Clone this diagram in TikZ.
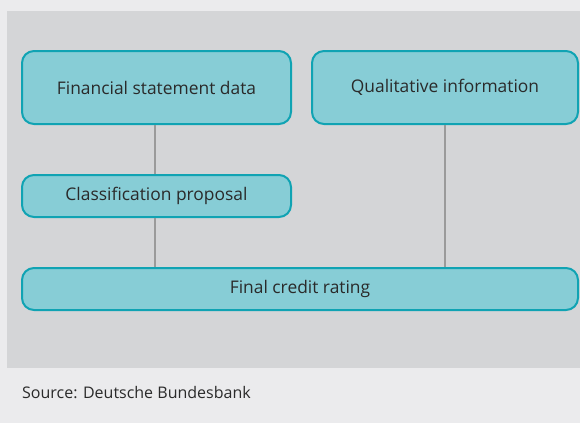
\documentclass[tikz,border=0pt]{standalone}
\usepackage{fontspec}
\setmainfont{Open Sans}
\definecolor{outerbg}{HTML}{EBEBED}
\definecolor{innerbg}{HTML}{D4D5D7}
\definecolor{boxfill}{HTML}{87CDD6}
\definecolor{boxline}{HTML}{10A3B3}
\definecolor{linkgray}{HTML}{9A9A9A}
\definecolor{txt}{HTML}{2A2A2A}
\tikzset{
  ratingbox/.style={draw=boxline, fill=boxfill, line width=2pt, rounded corners=12pt,
    text=txt, font=\fontsize{17.4}{20}\selectfont, inner sep=0pt},
  link/.style={draw=linkgray, line width=2pt}
}

\begin{document}
\begin{tikzpicture}[x=1pt, y=-1pt]
% Background
\fill[outerbg] (0,0) rectangle (580,423);
\fill[innerbg] (7,11) rectangle (580,368);
\useasboundingbox (0,0) rectangle (580,423);
% Nodes
\node[ratingbox, minimum width=269pt, minimum height=73pt] (fsd) at (156.5,87.5) {Financial statement data};
\node[ratingbox, minimum width=266pt, minimum height=73pt] (qual) at (445,87.5) {Qualitative information};
\node[ratingbox, minimum width=269pt, minimum height=42pt] (cls) at (156.5,196) {Classification proposal};
\node[ratingbox, minimum width=556pt, minimum height=42pt] (final) at (300,289) {Final credit rating};
\node[anchor=base west, text=txt, font=\fontsize{16}{19}\selectfont, inner sep=0pt] (src) at (22,398) {Source: Deutsche Bundesbank};
% Lines
\draw[link] (fsd.south -| 155,0) -- (cls.north -| 155,0);
\draw[link] (cls.south -| 155,0) -- (final.north -| 155,0);
\draw[link] (qual.south) -- (final.north -| qual.south);
\end{tikzpicture}
\end{document}
